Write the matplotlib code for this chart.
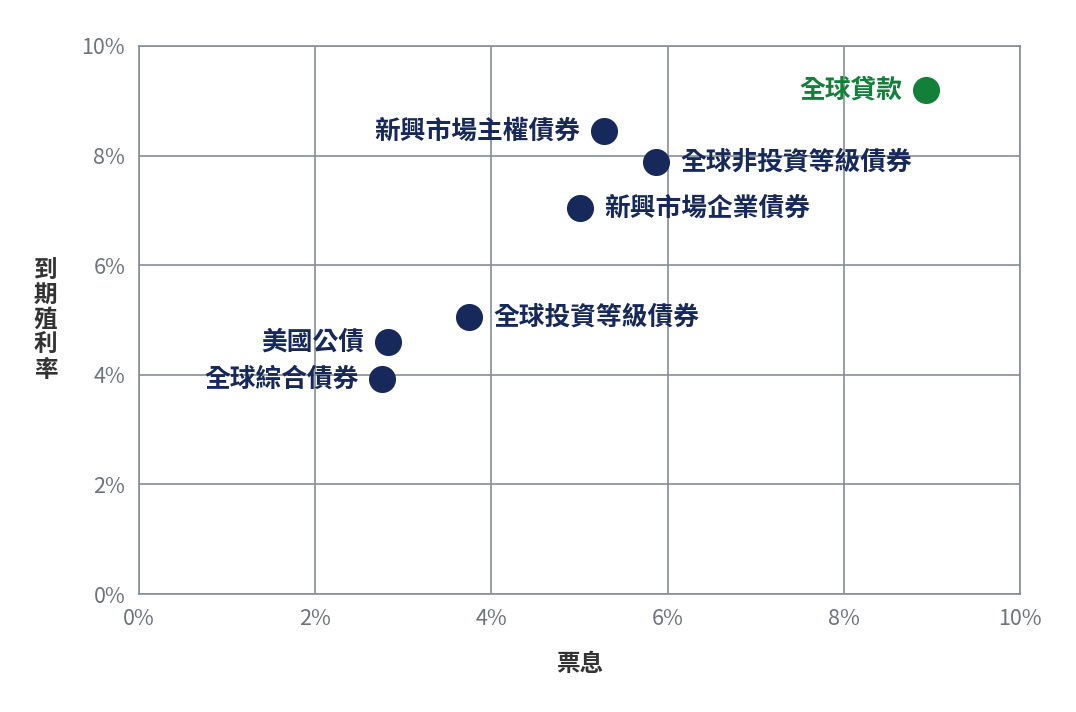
import matplotlib
matplotlib.use("Agg")
import matplotlib.pyplot as plt
from matplotlib.ticker import PercentFormatter

plt.rcParams['font.family'] = ['Noto Sans CJK TC', 'DejaVu Sans']

names   = ["全球貸款", "新興市場主權債券", "全球非投資等級債券", "新興市場企業債券",
           "全球投資等級債券", "美國公債", "全球綜合債券"]
coupon  = [8.93, 5.28, 5.87, 5.01, 3.75, 2.83, 2.76]
ytm     = [9.20, 8.45, 7.88, 7.04, 5.05, 4.60, 3.92]
side    = ["left", "left", "right", "right", "right", "left", "left"]

NAVY, GREEN, GRID = "#17295a", "#13803a", "#858d96"

fig = plt.figure(figsize=(10.76, 7.12), dpi=100)
ax = fig.add_axes([0.1292, 0.1657, 0.8188, 0.7697])

for n, x, y, s in zip(names, coupon, ytm, side):
    col = GREEN if n == "全球貸款" else NAVY
    ax.scatter(x, y, s=380, color=col, zorder=3, linewidth=0)
    dx = -0.27 if s == "left" else 0.27
    ax.text(x + dx, y, n, ha="right" if s == "left" else "left", va="center",
            fontsize=18.5, fontweight="bold", color=col, zorder=4)

ax.set_xlim(0, 10)
ax.set_ylim(0, 10)
ax.set_xticks(range(0, 11, 2))
ax.set_yticks(range(0, 11, 2))
ax.xaxis.set_major_formatter(PercentFormatter(decimals=0))
ax.yaxis.set_major_formatter(PercentFormatter(decimals=0))
ax.grid(color=GRID, lw=1.2)
for sp in ax.spines.values():
    sp.set_color(GRID)
    sp.set_linewidth(1.2)
ax.tick_params(length=0, labelsize=15.5, labelcolor="#6d737a", pad=10)
ax.set_axisbelow(True)

ax.set_xlabel("票息", fontsize=17, fontweight="bold", color="#333333", labelpad=16)
ax.set_ylabel("到\n期\n殖\n利\n率", fontsize=17, fontweight="bold", color="#333333",
              rotation=0, va="center", labelpad=26, linespacing=1.05)

fig.savefig("out.png", dpi=100)
